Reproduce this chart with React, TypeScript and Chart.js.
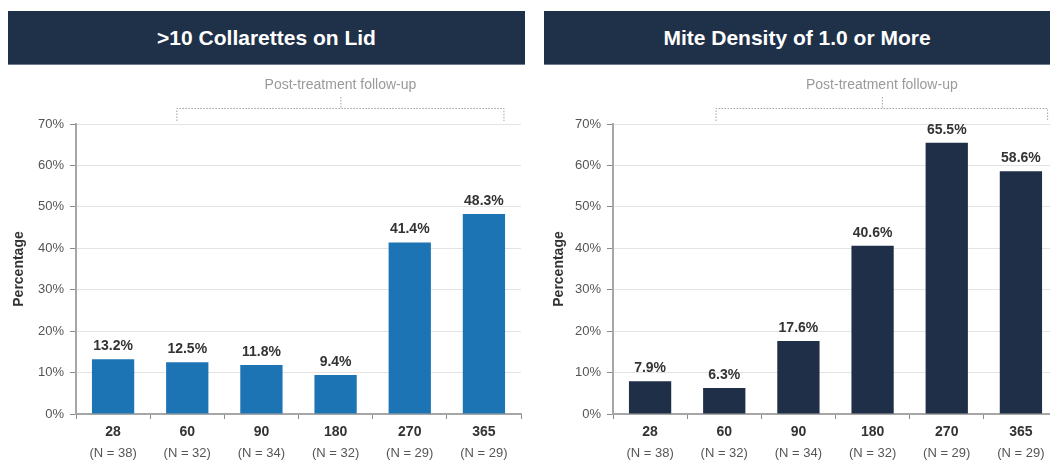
import React, { useEffect, useRef } from "react";
import { Chart, registerables } from "chart.js";

Chart.register(...registerables);

const FONT = "'Liberation Sans', Arial, Helvetica, sans-serif";

const days = ["28", "60", "90", "180", "270", "365"];
const nLabels = ["(N = 38)", "(N = 32)", "(N = 34)", "(N = 32)", "(N = 29)", "(N = 29)"];
const collarettesValues = [13.2, 12.5, 11.8, 9.4, 41.4, 48.3];
const miteValues = [7.9, 6.3, 17.6, 40.6, 65.5, 58.6];
const yTicks = [0, 10, 20, 30, 40, 50, 60, 70];
const collarettesTitle = ">10 Collarettes on Lid";
const miteTitle = "Mite Density of 1.0 or More";
const bracketText = "Post-treatment follow-up";

type PanelProps = {
  values: number[];
  color: string;
  canvasLeft: number;
  padLeft: number;
  yWidth: number;
  padRight: number;
  bracketL: number;
  bracketR: number;
};

function Panel(props: PanelProps) {
  const ref = useRef<HTMLCanvasElement | null>(null);
  useEffect(() => {
    const canvas = ref.current;
    if (!canvas) return;
    const labelPlugin = {
      id: "extras",
      afterDatasetsDraw(chart: any) {
        const ctx = chart.ctx;
        const meta = chart.getDatasetMeta(0);
        ctx.save();
        ctx.font = `bold 14px ${FONT}`;
        ctx.fillStyle = "#333333";
        ctx.textAlign = "center";
        ctx.textBaseline = "bottom";
        meta.data.forEach((bar: any, i: number) => {
          ctx.fillText(props.values[i].toFixed(1) + "%", bar.x, bar.y - 6);
        });
        // N labels
        const xs = chart.scales.x;
        ctx.font = `13px ${FONT}`;
        ctx.fillStyle = "#555555";
        ctx.textBaseline = "middle";
        nLabels.forEach((t, i) => {
          ctx.fillText(t, xs.getPixelForValue(i), 453);
        });
        // bracket
        const step = xs.getPixelForValue(1) - xs.getPixelForValue(0);
        const L = xs.getPixelForValue(1) + props.bracketL * step;
        const R = xs.getPixelForValue(5) + props.bracketR * step;
        const C = (L + R) / 2;
        ctx.strokeStyle = "#a0a0a0";
        ctx.lineWidth = 1;
        ctx.setLineDash([1.5, 1.5]);
        ctx.beginPath();
        ctx.moveTo(L, 121);
        ctx.lineTo(L, 108.5);
        ctx.lineTo(R, 108.5);
        ctx.lineTo(R, 121);
        ctx.moveTo(C + 0.5, 97);
        ctx.lineTo(C + 0.5, 108);
        ctx.stroke();
        ctx.setLineDash([]);
        ctx.font = `14px ${FONT}`;
        ctx.fillStyle = "#9a9a9a";
        ctx.textBaseline = "middle";
        ctx.fillText(bracketText, C, 85);
        ctx.restore();
      },
    };
    const chart = new Chart(canvas, {
      type: "bar",
      data: {
        labels: days,
        datasets: [
          {
            data: props.values,
            backgroundColor: props.color,
            categoryPercentage: 1,
            barPercentage: 0.57,
          },
        ],
      },
      options: {
        responsive: false,
        animation: false,
        layout: { padding: { left: props.padLeft, right: props.padRight, top: 124, bottom: 0 } },
        plugins: { legend: { display: false }, tooltip: { enabled: false } },
        scales: {
          x: {
            afterFit: (s: any) => {
              s.height = 50;
            },
            grid: {
              offset: true,
              drawOnChartArea: false,
              drawTicks: true,
              tickLength: 5,
              tickColor: "#8a8a8a",
            },
            border: { color: "#a6a6a6", width: 2 },
            ticks: {
              font: { family: FONT, size: 14, weight: "bold" },
              color: "#333333",
              padding: 5,
              maxRotation: 0,
            },
          },
          y: {
            min: 0,
            max: 70,
            afterFit: (s: any) => {
              s.width = props.yWidth;
            },
            afterBuildTicks: (s: any) => {
              s.ticks = yTicks.map((v) => ({ value: v }));
            },
            grid: {
              color: "#e3e3e3",
              tickColor: "#8a8a8a",
              tickLength: 6,
              lineWidth: 1,
            },
            border: { color: "#a6a6a6", width: 2 },
            ticks: {
              font: { family: FONT, size: 13 },
              color: "#555555",
              padding: 6,
              callback: (v: any) => v + "%",
            },
            title: {
              display: true,
              text: "Percentage",
              font: { family: FONT, size: 14, weight: "bold" },
              color: "#333333",
              padding: { top: 11, bottom: 0 },
            },
          },
        },
      },
      plugins: [labelPlugin],
    } as any);
    return () => chart.destroy();
  }, []);
  return (
    <canvas
      ref={ref}
      width={530}
      height={464}
      style={{ position: "absolute", left: props.canvasLeft, top: 0, width: 530, height: 464 }}
    />
  );
}

function Banner({ left, width, text }: { left: number; width: number; text: string }) {
  return (
    <div
      style={{
        position: "absolute",
        left,
        top: 11,
        width,
        height: 53,
        background: "#1f3049",
        borderBottom: "1px solid #6f7d90",
        color: "#ffffff",
        fontFamily: FONT,
        fontWeight: "bold",
        fontSize: 21,
        display: "flex",
        alignItems: "center",
        justifyContent: "center",
      }}
    >
      {text}
    </div>
  );
}

export default function App() {
  return (
    <div
      style={{
        position: "absolute",
        left: 0,
        top: 0,
        width: 1050,
        height: 464,
        overflow: "hidden",
        background: "#ffffff",
      }}
    >
      <Panel
        values={collarettesValues}
        color="#1c74b4"
        canvasLeft={0}
        padLeft={0}
        yWidth={76}
        padRight={9}
        bracketL={-0.14}
        bracketR={0.27}
      />
      <Panel
        values={miteValues}
        color="#1f2f48"
        canvasLeft={530}
        padLeft={10}
        yWidth={73}
        padRight={2}
        bracketL={-0.11}
        bracketR={0.36}
      />
      <Banner left={8} width={517} text={collarettesTitle} />
      <Banner left={544} width={506} text={miteTitle} />
    </div>
  );
}
